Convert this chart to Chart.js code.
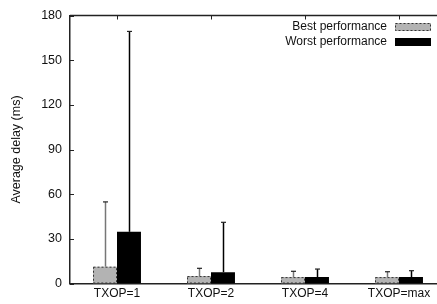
<!DOCTYPE html>
<html>
<head>
<meta charset="utf-8">
<script src="https://cdn.jsdelivr.net/npm/chart.js@4.4.0/dist/chart.umd.min.js"></script>
<style>
  html, body { margin: 0; padding: 0; overflow: hidden; background: #fff; }
  #wrap { width: 437px; height: 304px; overflow: hidden; }
</style>
</head>
<body>
<div id="wrap"><canvas id="delayChart" width="447" height="304"></canvas></div>
<script>
const categories = ['TXOP=1', 'TXOP=2', 'TXOP=4', 'TXOP=max'];
const bestMean = [11.3, 5.0, 4.3, 4.3];
const bestErr = [43.5, 5.2, 3.9, 3.6];
const worstMean = [34.7, 7.6, 4.3, 4.3];
const worstErr = [134.6, 33.5, 5.4, 4.3];
const yTicks = [0, 30, 60, 90, 120, 150, 180];

const FONT = '"Liberation Sans", Arial, sans-serif';
const ink = '#111';

// frame, inward ticks, dashed borders, error bars, legend
const gnuplotLook = {
    id: 'gnuplotLook',
    beforeDatasetsDraw(chart) {
        const { ctx, chartArea: a, scales: { x, y } } = chart;
        ctx.save();
        ctx.strokeStyle = '#222';
        ctx.lineWidth = 1;
        yTicks.forEach(v => {
            const py = Math.round(y.getPixelForValue(v)) + 0.5;
            ctx.beginPath();
            ctx.moveTo(a.left, py);
            ctx.lineTo(a.left + 4, py);
            ctx.stroke();
        });
        categories.forEach((c, i) => {
            const px = Math.round(x.getPixelForValue(i)) + 0.5;
            ctx.beginPath();
            ctx.moveTo(px, a.top);
            ctx.lineTo(px, a.top + 4);
            ctx.moveTo(px, a.bottom);
            ctx.lineTo(px, a.bottom - 4);
            ctx.stroke();
        });
        ctx.restore();
    },
    afterDatasetsDraw(chart) {
        const { ctx, chartArea: a, scales: { y } } = chart;
        ctx.save();
        // dashed outline on the best-performance bars
        chart.getDatasetMeta(0).data.forEach(bar => {
            const p = bar.getProps(['x', 'y', 'base', 'width'], true);
            ctx.strokeStyle = '#333';
            ctx.lineWidth = 1;
            ctx.setLineDash([2, 2]);
            ctx.strokeRect(p.x - p.width / 2 + 0.5, p.y + 0.5, p.width - 1, p.base - p.y - 1);
        });
        ctx.setLineDash([]);
        // error bars (upper half)
        const errs = [[bestMean, bestErr, '#777'], [worstMean, worstErr, '#000']];
        errs.forEach(([mean, err, col], d) => {
            chart.getDatasetMeta(d).data.forEach((bar, i) => {
                const px = Math.round(bar.x) + 0.5;
                const top = y.getPixelForValue(mean[i] + err[i]);
                const bot = y.getPixelForValue(mean[i]);
                ctx.strokeStyle = col;
                ctx.lineWidth = 1.5;
                ctx.beginPath();
                ctx.moveTo(px, bot);
                ctx.lineTo(px, top);
                ctx.stroke();
                ctx.strokeStyle = '#222';
                ctx.lineWidth = 1.2;
                ctx.beginPath();
                ctx.moveTo(px - 2.5, top);
                ctx.lineTo(px + 2.5, top);
                ctx.stroke();
            });
        });
        // top border of the frame
        ctx.strokeStyle = '#222';
        ctx.lineWidth = 1.5;
        ctx.beginPath();
        ctx.moveTo(a.left, a.top);
        ctx.lineTo(a.right, a.top);
        ctx.stroke();
        // legend
        const rows = [
            { label: 'Best performance', fill: '#b3b3b3', dash: true },
            { label: 'Worst performance', fill: '#000', dash: false }
        ];
        ctx.font = '12px ' + FONT;
        ctx.textAlign = 'right';
        ctx.textBaseline = 'middle';
        rows.forEach((r, k) => {
            const cy = a.top + 11.5 + k * 15;
            ctx.fillStyle = ink;
            ctx.fillText(r.label, 387, cy);
            ctx.fillStyle = r.fill;
            ctx.fillRect(395, cy - 4, 36, 8);
            if (r.dash) {
                ctx.strokeStyle = '#333';
                ctx.lineWidth = 1;
                ctx.setLineDash([2, 2]);
                ctx.strokeRect(395.5, cy - 3.5, 35, 7);
                ctx.setLineDash([]);
            }
        });
        ctx.restore();
    }
};

new Chart(document.getElementById('delayChart').getContext('2d'), {
    type: 'bar',
    data: {
        labels: categories,
        datasets: [
            {
                label: 'Best performance',
                data: bestMean,
                backgroundColor: '#b3b3b3',
                borderWidth: 0,
                categoryPercentage: 0.51,
                barPercentage: 1.0
            },
            {
                label: 'Worst performance',
                data: worstMean,
                backgroundColor: '#000',
                borderWidth: 0,
                categoryPercentage: 0.51,
                barPercentage: 1.0
            }
        ]
    },
    options: {
        responsive: false,
        animation: false,
        layout: { padding: { left: 0, right: 1, top: 15, bottom: 0 } },
        plugins: {
            legend: { display: false },
            tooltip: { enabled: false },
            title: { display: false }
        },
        scales: {
            x: {
                grid: { display: false, drawTicks: false },
                border: { display: true, color: '#222', width: 1.5 },
                ticks: { color: ink, font: { family: FONT, size: 12 }, padding: 3, maxRotation: 0 },
                afterFit(s) { s.height = 20.5; }
            },
            y: {
                min: 0,
                max: 180,
                afterBuildTicks(s) { s.ticks = yTicks.map(v => ({ value: v })); },
                grid: { display: false, drawTicks: false },
                border: { display: true, color: '#222', width: 1.5 },
                ticks: { color: ink, font: { family: FONT, size: 12.5 }, padding: 8 },
                title: {
                    display: true,
                    text: 'Average delay (ms)',
                    color: ink,
                    font: { family: FONT, size: 12.5 },
                    padding: { top: 9, bottom: 0 }
                },
                afterFit(s) { s.width = 70; }
            }
        }
    },
    plugins: [gnuplotLook]
});
</script>
</body>
</html>
